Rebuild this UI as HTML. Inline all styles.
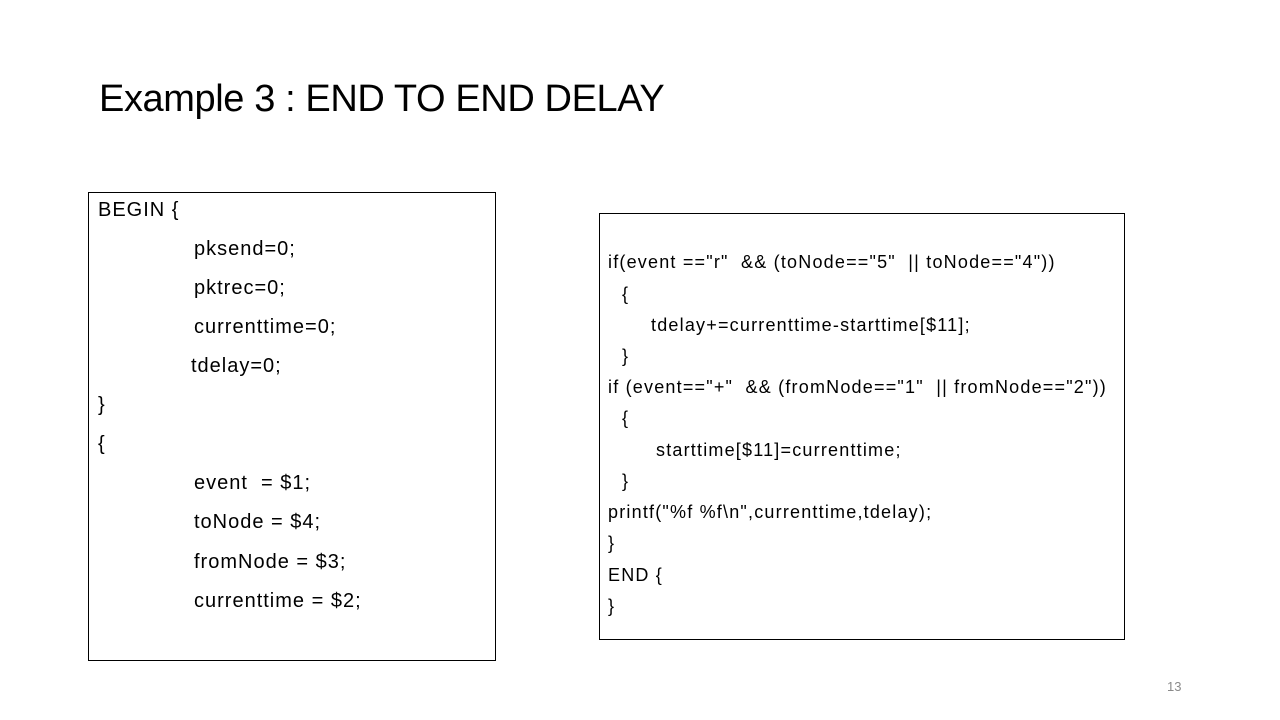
<!DOCTYPE html>
<html><head><meta charset="utf-8"><style>
body{margin:0;width:1280px;height:720px;background:#fff;position:relative;overflow:hidden;font-family:"Liberation Sans",sans-serif;color:#000}
.t{position:absolute;white-space:pre;line-height:1}
.box{position:absolute;border:1px solid #000;box-sizing:border-box}
.l{font-size:20px;letter-spacing:1px}
.r{font-size:18px;letter-spacing:1.2px}
</style></head><body>
<div class="t" style="left:99px;top:80px;font-size:38px;letter-spacing:-0.4px">Example 3 : END TO END DELAY</div>
<div class="box" style="left:88px;top:192px;width:408px;height:469px"></div>
<div class="t l" style="left:98px;top:200px">BEGIN {</div>
<div class="t l" style="left:194px;top:239px">pksend=0;</div>
<div class="t l" style="left:194px;top:278px">pktrec=0;</div>
<div class="t l" style="left:194px;top:317px">currenttime=0;</div>
<div class="t l" style="left:191px;top:356px">tdelay=0;</div>
<div class="t l" style="left:98px;top:395px">}</div>
<div class="t l" style="left:98px;top:434px">{</div>
<div class="t l" style="left:194px;top:473px">event  = $1;</div>
<div class="t l" style="left:194px;top:512px">toNode = $4;</div>
<div class="t l" style="left:194px;top:552px">fromNode = $3;</div>
<div class="t l" style="left:194px;top:591px">currenttime = $2;</div>
<div class="box" style="left:599px;top:213px;width:526px;height:427px"></div>
<div class="t r" style="left:608px;top:253px">if(event =="r"  &amp;&amp; (toNode=="5"  || toNode=="4"))</div>
<div class="t r" style="left:622px;top:285px">{</div>
<div class="t r" style="left:651px;top:316px">tdelay+=currenttime-starttime[$11];</div>
<div class="t r" style="left:622px;top:347px">}</div>
<div class="t r" style="left:608px;top:378px">if (event=="+"  &amp;&amp; (fromNode=="1"  || fromNode=="2"))</div>
<div class="t r" style="left:622px;top:409px">{</div>
<div class="t r" style="left:656px;top:441px">starttime[$11]=currenttime;</div>
<div class="t r" style="left:622px;top:472px">}</div>
<div class="t r" style="left:608px;top:503px">printf("%f %f\n",currenttime,tdelay);</div>
<div class="t r" style="left:608px;top:534px">}</div>
<div class="t r" style="left:608px;top:566px">END {</div>
<div class="t r" style="left:608px;top:597px">}</div>
<div class="t" style="left:1167px;top:680px;font-size:13px;color:#8a8a8a">13</div>
</body></html>
